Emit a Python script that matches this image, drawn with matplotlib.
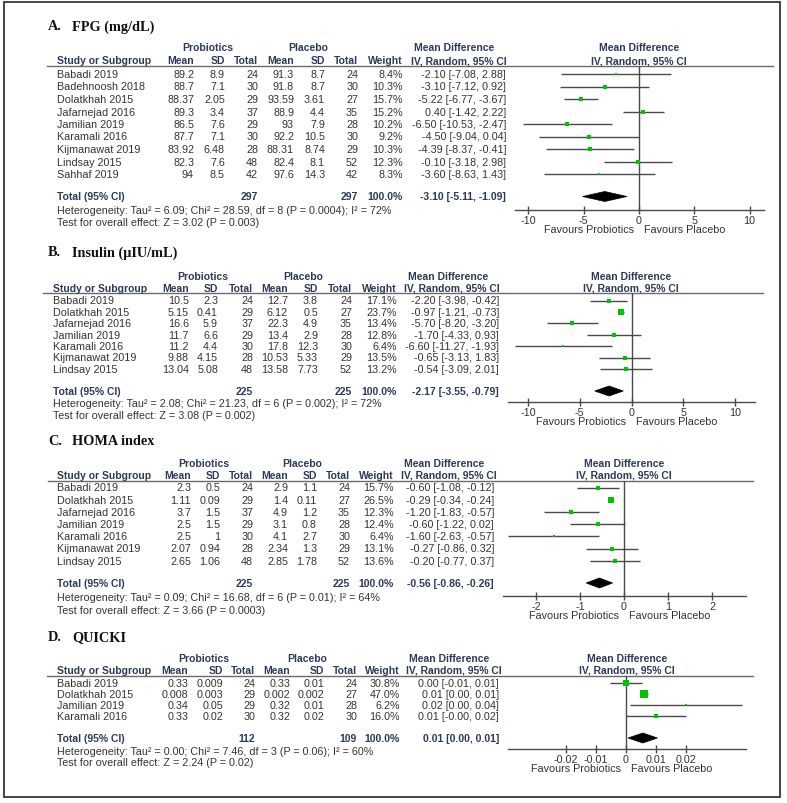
import matplotlib
matplotlib.use("Agg")
import matplotlib.pyplot as plt
from matplotlib.patches import Rectangle, Polygon

plt.rcParams['axes.unicode_minus'] = False

# ---------------- DATA ----------------
# Panel A: FPG
A_study = ["Babadi 2019", "Badehnoosh 2018", "Dolatkhah 2015", "Jafarnejad 2016", "Jamilian 2019",
           "Karamali 2016", "Kijmanawat 2019", "Lindsay 2015", "Sahhaf 2019"]
A_pro_mean = [89.2, 88.7, 88.37, 89.3, 86.5, 87.7, 83.92, 82.3, 94]
A_pro_sd = [8.9, 7.1, 2.05, 3.4, 7.6, 7.1, 6.48, 7.6, 8.5]
A_pro_n = [24, 30, 29, 37, 29, 30, 28, 48, 42]
A_pla_mean = [91.3, 91.8, 93.59, 88.9, 93, 92.2, 88.31, 82.4, 97.6]
A_pla_sd = [8.7, 8.7, 3.61, 4.4, 7.9, 10.5, 8.74, 8.1, 14.3]
A_pla_n = [24, 30, 27, 35, 28, 30, 29, 52, 42]
A_weight = [8.4, 10.3, 15.7, 15.2, 10.2, 9.2, 10.3, 12.3, 8.3]
A_md = [-2.10, -3.10, -5.22, 0.40, -6.50, -4.50, -4.39, -0.10, -3.60]
A_lo = [-7.08, -7.12, -6.77, -1.42, -10.53, -9.04, -8.37, -3.18, -8.63]
A_hi = [2.88, 0.92, -3.67, 2.22, -2.47, 0.04, -0.41, 2.98, 1.43]
A_total = [-3.10, -5.11, -1.09]
A_total_n = [297, 297]
A_het = "Heterogeneity: Tau\u00b2 = 6.09; Chi\u00b2 = 28.59, df = 8 (P = 0.0004); I\u00b2 = 72%"
A_test = "Test for overall effect: Z = 3.02 (P = 0.003)"
A_ticks = [-10, -5, 0, 5, 10]
A_ticklabels = ["-10", "-5", "0", "5", "10"]

# Panel B: Insulin
B_study = ["Babadi 2019", "Dolatkhah 2015", "Jafarnejad 2016", "Jamilian 2019", "Karamali 2016",
           "Kijmanawat 2019", "Lindsay 2015"]
B_pro_mean = [10.5, 5.15, 16.6, 11.7, 11.2, 9.88, 13.04]
B_pro_sd = [2.3, 0.41, 5.9, 6.6, 4.4, 4.15, 5.08]
B_pro_n = [24, 29, 37, 29, 30, 28, 48]
B_pla_mean = [12.7, 6.12, 22.3, 13.4, 17.8, 10.53, 13.58]
B_pla_sd = [3.8, 0.5, 4.9, 2.9, 12.3, 5.33, 7.73]
B_pla_n = [24, 27, 35, 28, 30, 29, 52]
B_weight = [17.1, 23.7, 13.4, 12.8, 6.4, 13.5, 13.2]
B_md = [-2.20, -0.97, -5.70, -1.70, -6.60, -0.65, -0.54]
B_lo = [-3.98, -1.21, -8.20, -4.33, -11.27, -3.13, -3.09]
B_hi = [-0.42, -0.73, -3.20, 0.93, -1.93, 1.83, 2.01]
B_total = [-2.17, -3.55, -0.79]
B_total_n = [225, 225]
B_het = "Heterogeneity: Tau\u00b2 = 2.08; Chi\u00b2 = 21.23, df = 6 (P = 0.002); I\u00b2 = 72%"
B_test = "Test for overall effect: Z = 3.08 (P = 0.002)"
B_ticks = [-10, -5, 0, 5, 10]
B_ticklabels = ["-10", "-5", "0", "5", "10"]

# Panel C: HOMA index
C_study = ["Babadi 2019", "Dolatkhah 2015", "Jafarnejad 2016", "Jamilian 2019", "Karamali 2016",
           "Kijmanawat 2019", "Lindsay 2015"]
C_pro_mean = [2.3, 1.11, 3.7, 2.5, 2.5, 2.07, 2.65]
C_pro_sd = [0.5, 0.09, 1.5, 1.5, 1, 0.94, 1.06]
C_pro_n = [24, 29, 37, 29, 30, 28, 48]
C_pla_mean = [2.9, 1.4, 4.9, 3.1, 4.1, 2.34, 2.85]
C_pla_sd = [1.1, 0.11, 1.2, 0.8, 2.7, 1.3, 1.78]
C_pla_n = [24, 27, 35, 28, 30, 29, 52]
C_weight = [15.7, 26.5, 12.3, 12.4, 6.4, 13.1, 13.6]
C_md = [-0.60, -0.29, -1.20, -0.60, -1.60, -0.27, -0.20]
C_lo = [-1.08, -0.34, -1.83, -1.22, -2.63, -0.86, -0.77]
C_hi = [-0.12, -0.24, -0.57, 0.02, -0.57, 0.32, 0.37]
C_total = [-0.56, -0.86, -0.26]
C_total_n = [225, 225]
C_het = "Heterogeneity: Tau\u00b2 = 0.09; Chi\u00b2 = 16.68, df = 6 (P = 0.01); I\u00b2 = 64%"
C_test = "Test for overall effect: Z = 3.66 (P = 0.0003)"
C_ticks = [-2, -1, 0, 1, 2]
C_ticklabels = ["-2", "-1", "0", "1", "2"]

# Panel D: QUICKI
D_study = ["Babadi 2019", "Dolatkhah 2015", "Jamilian 2019", "Karamali 2016"]
D_pro_mean = [0.33, 0.008, 0.34, 0.33]
D_pro_sd = [0.009, 0.003, 0.05, 0.02]
D_pro_n = [24, 29, 29, 30]
D_pla_mean = [0.33, 0.002, 0.32, 0.32]
D_pla_sd = [0.01, 0.002, 0.01, 0.02]
D_pla_n = [24, 27, 28, 30]
D_weight = [30.8, 47.0, 6.2, 16.0]
D_md = [0.0, 0.006, 0.02, 0.01]
D_lo = [-0.0054, 0.0047, 0.0014, -0.0001]
D_hi = [0.0054, 0.0073, 0.0386, 0.0201]
D_total = [0.0056, 0.0007, 0.0105]
D_total_n = [112, 109]
D_het = "Heterogeneity: Tau\u00b2 = 0.00; Chi\u00b2 = 7.46, df = 3 (P = 0.06); I\u00b2 = 60%"
D_test = "Test for overall effect: Z = 2.24 (P = 0.02)"
D_ticks = [-0.02, -0.01, 0, 0.01, 0.02]
D_ticklabels = ["-0.02", "-0.01", "0", "0.01", "0.02"]

titles = [("A.", "FPG (mg/dL)"), ("B.", "Insulin (\u03bcIU/mL)"), ("C.", "HOMA index"), ("D.", "QUICKI")]

# ---------------- STYLE / LAYOUT ----------------
W, H = 787, 804
FONT = "Liberation Sans"
FS = 7.75
FSB = 7.45
TXT = "#333333"
HDR = "#2c3a58"
GREEN = "#00c400"
LINE = "#4a4a4a"

fig = plt.figure(figsize=(W / 100, H / 100), dpi=100)
fig.patch.set_facecolor("white")
cv = fig.add_axes([0, 0, 1, 1])
cv.set_xlim(0, W)
cv.set_ylim(H, 0)
cv.axis("off")

cv.add_patch(Rectangle((4, 3), 776, 795, fill=False, ec="#444444", lw=1.4))


def t(x, y, s, ha="left", bold=False, color=None, size=None):
    if size is None:
        size = FSB if bold else FS
    cv.text(x, y, s, ha=ha, va="center", fontsize=size, family=FONT,
            fontweight="bold" if bold else "normal",
            color=color if color else (HDR if bold else TXT))


layouts = [
    dict(title_y=27, grp_y=48, hdr_y=61, line_y=67, line_x=(47, 773), row0=75, dy=12.5,
         tot_y=197.5, het_y=211, test_y=223, left=57,
         cols=[194, 225, 258, 294, 325, 358, 403, 506], pro_c=208, pla_c=308,
         mdh_c=454, mdi_c=459, fh_c=639,
         ax_x=(515, 764), ax_y=211, xlim=(-11.22, 11.31)),
    dict(title_y=253, grp_y=277, hdr_y=289, line_y=294, line_x=(43, 763), row0=301.5, dy=11.4,
         tot_y=392, het_y=404, test_y=416, left=53,
         cols=[189, 218, 253, 288, 318, 352, 397, 499], pro_c=203, pla_c=303,
         mdh_c=448, mdi_c=452, fh_c=631,
         ax_x=(508, 755), ax_y=403, xlim=(-11.93, 11.93)),
    dict(title_y=442, grp_y=464, hdr_y=476, line_y=482, line_x=(48, 753), row0=488.5, dy=12.2,
         tot_y=584, het_y=598, test_y=611, left=57,
         cols=[191, 220, 253, 288, 317, 350, 394, 494], pro_c=204, pla_c=302,
         mdh_c=444, mdi_c=449, fh_c=624,
         ax_x=(503, 746), ax_y=597, xlim=(-2.75, 2.77)),
    dict(title_y=638, grp_y=659, hdr_y=671, line_y=677, line_x=(47, 753), row0=684, dy=11,
         tot_y=739, het_y=752, test_y=763, left=57,
         cols=[188, 223, 255, 290, 324, 357, 400, 499], pro_c=204, pla_c=307,
         mdh_c=449, mdi_c=454, fh_c=627,
         ax_x=(508, 746), ax_y=750, xlim=(-0.0393, 0.040)),
]

panels = [
    (A_study, A_pro_mean, A_pro_sd, A_pro_n, A_pla_mean, A_pla_sd, A_pla_n, A_weight, A_md, A_lo, A_hi,
     A_total, A_total_n, A_het, A_test, A_ticks, A_ticklabels),
    (B_study, B_pro_mean, B_pro_sd, B_pro_n, B_pla_mean, B_pla_sd, B_pla_n, B_weight, B_md, B_lo, B_hi,
     B_total, B_total_n, B_het, B_test, B_ticks, B_ticklabels),
    (C_study, C_pro_mean, C_pro_sd, C_pro_n, C_pla_mean, C_pla_sd, C_pla_n, C_weight, C_md, C_lo, C_hi,
     C_total, C_total_n, C_het, C_test, C_ticks, C_ticklabels),
    (D_study, D_pro_mean, D_pro_sd, D_pro_n, D_pla_mean, D_pla_sd, D_pla_n, D_weight, D_md, D_lo, D_hi,
     D_total, D_total_n, D_het, D_test, D_ticks, D_ticklabels),
]

for (lbl, ttl), L, P in zip(titles, layouts, panels):
    (study, pm, psd, pn, qm, qsd, qn, wt, md, lo, hi, tot, totn, het, test, ticks, ticklabels) = P
    c = L["cols"]
    # title
    cv.text(48, L["title_y"], lbl, ha="left", va="center", fontsize=10.3, family="Liberation Serif",
            fontweight="bold", color="#111111")
    cv.text(72, L["title_y"], ttl, ha="left", va="center", fontsize=10.3, family="Liberation Serif",
            fontweight="bold", color="#111111")
    # group headers
    t(L["pro_c"], L["grp_y"], "Probiotics", ha="center", bold=True)
    t(L["pla_c"], L["grp_y"], "Placebo", ha="center", bold=True)
    t(L["mdh_c"], L["grp_y"], "Mean Difference", ha="center", bold=True)
    t(L["fh_c"], L["grp_y"], "Mean Difference", ha="center", bold=True)
    # column headers
    t(L["left"], L["hdr_y"], "Study or Subgroup", bold=True)
    for x, s in zip(c[:7], ["Mean", "SD", "Total", "Mean", "SD", "Total", "Weight"]):
        t(x, L["hdr_y"], s, ha="right", bold=True)
    t(L["mdi_c"], L["hdr_y"], "IV, Random, 95% CI", ha="center", bold=True)
    t(L["fh_c"], L["hdr_y"], "IV, Random, 95% CI", ha="center", bold=True)
    cv.plot(L["line_x"], [L["line_y"], L["line_y"]], color="#6a6a6a", lw=1.0)

    rows = [L["row0"] + L["dy"] * i for i in range(len(study))]
    for i, y in enumerate(rows):
        t(L["left"], y, study[i])
        vals = [f"{pm[i]:g}", f"{psd[i]:g}", f"{pn[i]}", f"{qm[i]:g}", f"{qsd[i]:g}", f"{qn[i]}",
                f"{wt[i]:.1f}%", f"{md[i]:.2f} [{lo[i]:.2f}, {hi[i]:.2f}]"]
        for x, s in zip(c, vals):
            t(x, y, s, ha="right")
    # totals
    t(L["left"], L["tot_y"], "Total (95% CI)", bold=True)
    t(c[2], L["tot_y"], f"{totn[0]}", ha="right", bold=True)
    t(c[5], L["tot_y"], f"{totn[1]}", ha="right", bold=True)
    t(c[6], L["tot_y"], "100.0%", ha="right", bold=True)
    t(c[7], L["tot_y"], f"{tot[0]:.2f} [{tot[1]:.2f}, {tot[2]:.2f}]", ha="right", bold=True)
    t(L["left"], L["het_y"], het)
    t(L["left"], L["test_y"], test)

    # forest axes: x in data units, y in figure pixel rows
    x0, x1 = L["ax_x"]
    ytop, ybot = L["line_y"], L["ax_y"]
    ax = fig.add_axes([x0 / W, 1 - ybot / H, (x1 - x0) / W, (ybot - ytop) / H])
    ax.set_facecolor("none")
    ax.set_xlim(*L["xlim"])
    ax.set_ylim(ybot, ytop)
    for s in ["top", "left", "right"]:
        ax.spines[s].set_visible(False)
    ax.spines["bottom"].set_color(LINE)
    ax.spines["bottom"].set_linewidth(1.0)
    ax.set_yticks([])
    ax.set_xticks(ticks)
    ax.set_xticklabels(ticklabels, family=FONT, fontsize=FS, color=TXT)
    ax.tick_params(axis="x", direction="inout", length=6, width=1.0, color=LINE, pad=0.5)
    ax.plot([0, 0], [ytop, ybot], color=LINE, lw=1.0)
    for i, y in enumerate(rows):
        ax.plot([lo[i], hi[i]], [y, y], color=LINE, lw=1.0, solid_capstyle="butt")
        side = 1.8 + 0.14 * wt[i]
        ax.plot([md[i]], [y], marker="s", ms=side * 0.72, color=GREEN, mec=GREEN, mew=0, ls="none")
    yt = L["tot_y"]
    ax.add_patch(Polygon([(tot[1], yt), (tot[0], yt - 5), (tot[2], yt), (tot[0], yt + 5)],
                         closed=True, fc="black", ec="black", lw=0.5))
    # favours labels
    z = L["ax_y"] + 19
    zx = x0 + (0 - L["xlim"][0]) / (L["xlim"][1] - L["xlim"][0]) * (x1 - x0)
    t(zx - 5, z, "Favours Probiotics", ha="right")
    t(zx + 5, z, "Favours Placebo", ha="left")

fig.savefig("out.png", dpi=100, facecolor="white")
